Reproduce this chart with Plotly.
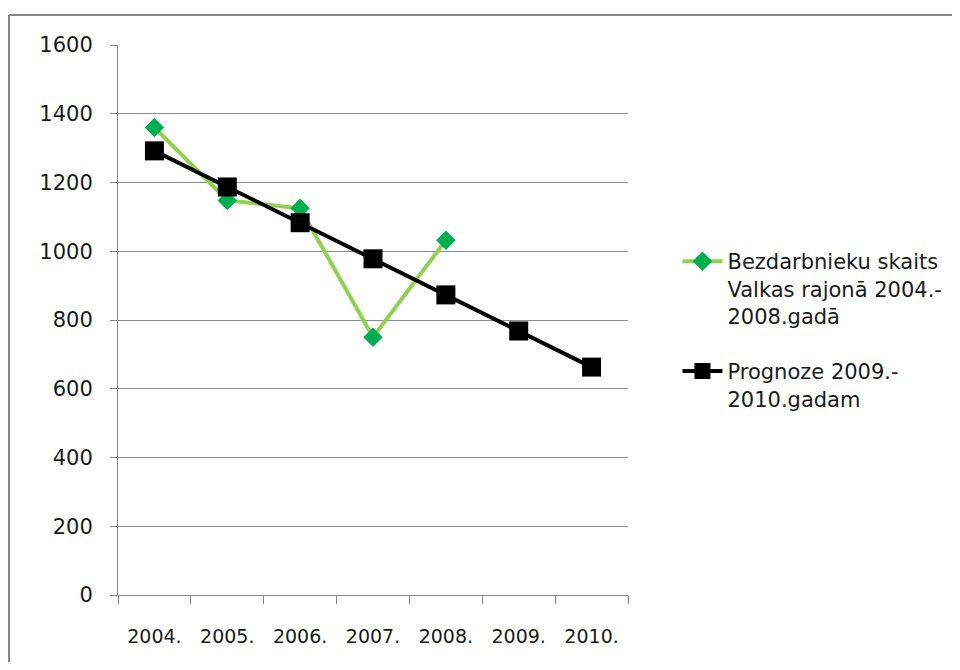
import plotly.graph_objects as go

years = ["2004.", "2005.", "2006.", "2007.", "2008.", "2009.", "2010."]
unemployed = [1360, 1148, 1125, 750, 1032]
forecast = [1292, 1187, 1083, 978, 873, 768, 663]

name_unemployed = "Bezdarbnieku skaits<br>Valkas rajonā 2004.-<br>2008.gadā"
name_forecast = "Prognoze 2009.-<br>2010.gadam"

fig = go.Figure()

fig.add_trace(go.Scatter(
    x=years[:len(unemployed)], y=unemployed,
    mode="lines+markers",
    line=dict(color="#92D050", width=4),
    marker=dict(symbol="diamond", size=15, color="#00B050"),
    name=name_unemployed, legendgroup="a"
))

fig.add_trace(go.Scatter(
    x=years, y=forecast,
    mode="lines+markers",
    line=dict(color="black", width=4),
    marker=dict(symbol="square", size=19, color="black"),
    name=name_forecast, legendgroup="b"
))

# chart-area border: only the top and left edges are in view
border = dict(color="#868686", width=2)
fig.add_shape(type="line", xref="paper", yref="paper",
              x0=-0.2137, x1=1.8, y0=1.0545, y1=1.0545, line=border)
fig.add_shape(type="line", xref="paper", yref="paper",
              x0=-0.2137, x1=-0.2137, y0=-0.3, y1=1.0545, line=border)

fig.update_layout(
    width=952, height=654,
    margin=dict(l=110, r=332, t=37, b=67),
    paper_bgcolor="white", plot_bgcolor="white",
    font=dict(family="DejaVu Sans, sans-serif", size=20, color="#1a1a1a"),
    showlegend=True,
    legend=dict(
        x=1.097, y=0.6436, xanchor="left", yanchor="top", valign="top",
        font=dict(family="DejaVu Sans, sans-serif", size=21),
        tracegroupgap=25, itemwidth=40
    )
)

fig.update_xaxes(
    type="category", categoryorder="array", categoryarray=years,
    range=[-0.5, 6.5],
    tickson="boundaries", ticks="outside", ticklen=8, tickcolor="#888888",
    showline=True, linecolor="#888888", linewidth=1,
    showgrid=False, ticklabelstandoff=24,
    tickfont=dict(size=19)
)

fig.update_yaxes(
    range=[0, 1600], dtick=200,
    ticks="outside", ticklen=7, tickcolor="#888888",
    showline=True, linecolor="#888888", linewidth=1,
    showgrid=True, gridcolor="#8c8c8c", gridwidth=1,
    zeroline=False, ticklabelstandoff=13,
    tickfont=dict(size=21)
)

fig.write_html("out.html")
